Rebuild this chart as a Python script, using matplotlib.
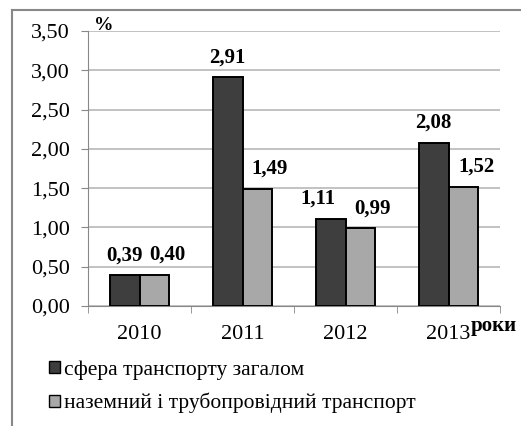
import matplotlib
matplotlib.use("Agg")
import matplotlib.pyplot as plt
import numpy as np
from matplotlib.patches import Rectangle
from matplotlib.lines import Line2D

years = ["2010", "2011", "2012", "2013"]
series_names = ["сфера транспорту загалом", "наземний і трубопровідний транспорт"]
total = [0.39, 2.91, 1.11, 2.08]
land = [0.40, 1.49, 0.99, 1.52]
labels_total = ["0,39", "2,91", "1,11", "2,08"]
labels_land = ["0,40", "1,49", "0,99", "1,52"]
yticks = [0.0, 0.5, 1.0, 1.5, 2.0, 2.5, 3.0, 3.5]
ytick_labels = ["0,00", "0,50", "1,00", "1,50", "2,00", "2,50", "3,00", "3,50"]

# label horizontal offsets (pixels) as placed in the original
dx_total = [0, 0, -13, 0]
dx_land = [13, 12, 12, 13]

plt.rcParams['font.family'] = 'serif'
plt.rcParams['font.serif'] = ['Liberation Serif', 'DejaVu Serif']

fig = plt.figure(figsize=(5.21, 4.26), dpi=100)
W, H = 521, 426
PX = 72 / 100  # points per pixel
ax = fig.add_axes([88 / W, 1 - 306 / H, (500 - 88) / W, (306 - 31) / H])

x = np.arange(len(years))
bw = 0.29
c_dark = "#3e3e3e"
c_light = "#a8a8a8"
ax.bar(x - bw / 2, total, bw, color=c_dark, edgecolor="black", linewidth=1.4, zorder=3)
ax.bar(x + bw / 2, land, bw, color=c_light, edgecolor="black", linewidth=1.4, zorder=3)

for xi, v, lab, dx in zip(x, total, labels_total, dx_total):
    ax.annotate(lab, (xi - bw / 2, v), xytext=(dx * PX, 20 * PX), textcoords="offset points",
                ha="center", va="center", fontsize=15, fontweight="bold")
for xi, v, lab, dx in zip(x, land, labels_land, dx_land):
    ax.annotate(lab, (xi + bw / 2, v), xytext=(dx * PX, 20 * PX), textcoords="offset points",
                ha="center", va="center", fontsize=15, fontweight="bold")

ax.set_xlim(-0.5, 3.5)
ax.set_ylim(0, 3.5)
ax.set_yticks(yticks)
ax.set_yticklabels(ytick_labels, fontsize=16)
ax.set_xticks(x)
ax.set_xticklabels(years, fontsize=16)
ax.set_xticks([-0.5, 0.5, 1.5, 2.5, 3.5], minor=True)
ax.tick_params(axis="x", which="major", length=0, pad=14)
ax.tick_params(axis="x", which="minor", length=5, color="#888888")
ax.tick_params(axis="y", length=5, color="#888888", pad=8)
ax.yaxis.grid(True, color="#b8b8b8", linewidth=1.2, zorder=0)
for s in ["top", "right"]:
    ax.spines[s].set_visible(False)
ax.spines["left"].set_color("#888888")
ax.spines["bottom"].set_color("#888888")

fig.text(104 / W, 1 - 25 / H, "%", fontsize=14, fontweight="bold", ha="center", va="center")
fig.text(494 / W, 1 - 326 / H, "роки", fontsize=15, fontweight="bold", ha="center", va="center")

# frame
fig.add_artist(Line2D([12 / W, 12 / W], [0, 1 - 10 / H], transform=fig.transFigure, color="#888888", linewidth=1.5))
fig.add_artist(Line2D([12 / W, 1], [1 - 10 / H, 1 - 10 / H], transform=fig.transFigure, color="#888888", linewidth=1.5))

handles = [Rectangle((0, 0), 1, 1, facecolor=c_dark, edgecolor="black"),
           Rectangle((0, 0), 1, 1, facecolor=c_light, edgecolor="black")]
leg = fig.legend(handles, series_names, loc="upper left", bbox_to_anchor=(49 / W, 1 - 360 / H),
                 frameon=False, fontsize=15.5, handlelength=0.5, handleheight=0.5, handletextpad=0.2,
                 labelspacing=0.62, borderpad=0, borderaxespad=0)

fig.savefig("out.png", dpi=100)
